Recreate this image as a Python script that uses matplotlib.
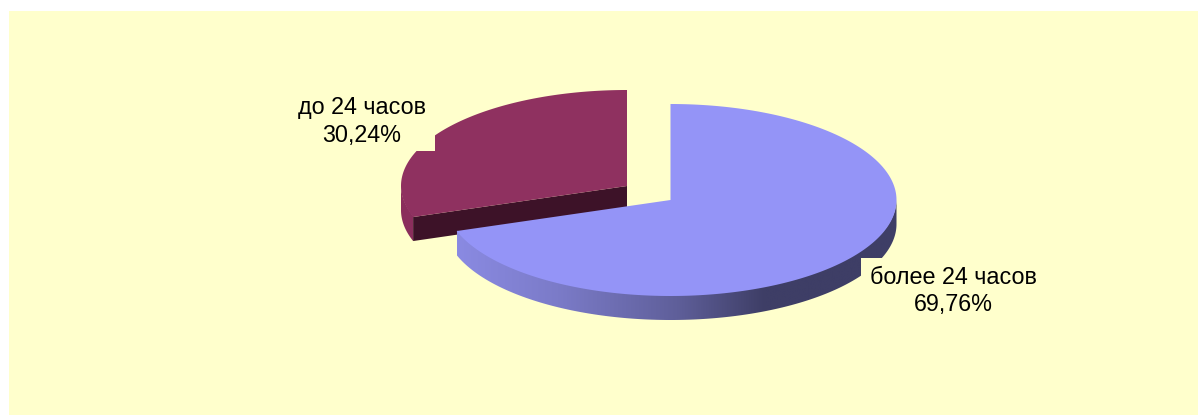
import numpy as np
import matplotlib
matplotlib.use('Agg')
import matplotlib.pyplot as plt
from matplotlib.colors import LinearSegmentedColormap
from matplotlib.patches import Polygon, Rectangle

labels = ['более 24 часов', 'до 24 часов']
shares = [69.76, 30.24]
share_text = ['69,76%', '30,24%']

BG = '#ffffcc'
RX, RY, DEPTH = 226, 96, 24


def arc(cx, cy, start, end, dy=0):
    # elliptical arc, angles in degrees counted the usual way (y axis points down)
    t = np.radians(np.linspace(start, end, 300))
    return np.column_stack([cx + RX * np.cos(t), cy - RY * np.sin(t) + dy])


plt.rcParams['font.family'] = ['Liberation Sans', 'DejaVu Sans']
fig = plt.figure(figsize=(11.98, 4.15), dpi=100)
ax = fig.add_axes([0, 0, 1, 1])
ax.set_xlim(0, 1198)
ax.set_ylim(415, 0)
ax.axis('off')
ax.add_patch(Rectangle((9, 11), 1189, 404, color=BG, lw=0))

# both slices start from 12 o'clock and run clockwise
split = 90 - 360 * shares[0] / 100

# slice "до 24 часов", pulled out to the upper left
# (walls start 1px above the rim so no background seam shows under the top face)
rc = (627, 186)
top = arc(*rc, split + 360, 90)
ax.add_patch(Polygon(np.vstack([arc(*rc, 180, split + 360, -1), arc(*rc, split + 360, 180, DEPTH)]),
                     color='#8a2e5c', lw=0))
ax.add_patch(Polygon([rc, top[0], top[0] + [0, DEPTH], (rc[0], rc[1] + DEPTH)],
                     color='#3d1228', lw=0))
ax.add_patch(Polygon(np.vstack([[rc], top]), color='#8f3160', lw=0))

# slice "более 24 часов"
bc = (670.5, 200)
edge = arc(*bc, split, 0)
wall = Polygon(np.vstack([arc(*bc, split, 0, -1), arc(*bc, 0, split, DEPTH)]), color='none', lw=0)
ax.add_patch(wall)
shade = LinearSegmentedColormap.from_list('wall', [(0, '#8a8ae2'), (0.23, '#7b7bc8'),
                                                  (0.5, '#5f5f9a'), (0.7, '#3e3e66'),
                                                  (1, '#3e3e66')])
img = ax.imshow(np.linspace(0, 1, 256)[None, :], cmap=shade, aspect='auto',
                extent=(edge[0, 0], bc[0] + RX, bc[1] + RY + DEPTH, bc[1]), zorder=2)
img.set_clip_path(wall)
ax.set_xlim(0, 1198)
ax.set_ylim(415, 0)
ax.add_patch(Polygon(np.vstack([[bc], arc(*bc, split, 90)]), color='#9494f7', lw=0, zorder=3))

# label plates cut into the slices behind them
ax.add_patch(Rectangle((290, 92), 145, 59, color=BG, lw=0, zorder=4))
ax.add_patch(Rectangle((861, 258), 184, 65, color=BG, lw=0, zorder=4))
ax.text(953, 291, f'{labels[0]}\n{share_text[0]}', ha='center', va='center', fontsize=16.8,
        color='black', zorder=5, linespacing=1.25)
ax.text(362, 121.5, f'{labels[1]}\n{share_text[1]}', ha='center', va='center', fontsize=16.8,
        color='black', zorder=5, linespacing=1.25)

fig.savefig('out.png', dpi=100, facecolor='white')
